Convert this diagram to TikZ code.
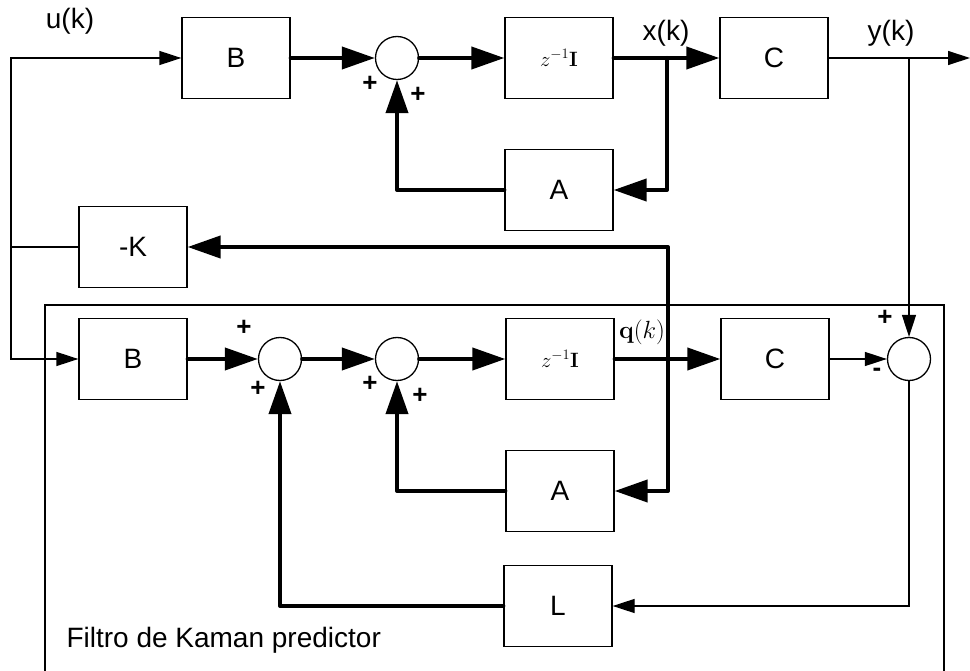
\documentclass[tikz,border=0pt]{standalone}
\usepackage[no-math]{fontspec}
\setmainfont{Liberation Sans}
\usetikzlibrary{arrows.meta}
\tikzset{
  block/.style={rectangle, draw, line width=1.3pt, minimum width=108pt, minimum height=81pt, inner sep=0pt},
  sumnode/.style={circle, draw, line width=1.3pt, minimum size=43pt, inner sep=0pt},
  arrow/.style={-{Triangle[length=33pt, width=22pt]}, line width=4pt, line join=round, line cap=round},
  tarrow/.style={-{Triangle[length=22pt, width=14pt]}, line width=1.3pt},
  thinline/.style={line width=1.3pt},
  sign/.style={font=\fontsize{26}{30}\selectfont\bfseries, inner sep=0pt},
  delay/.style={font=\fontsize{20}{24}\selectfont},
}

\begin{document}
\begin{tikzpicture}[x=1pt, y=-1pt, font=\fontsize{28}{34}\selectfont]
  \useasboundingbox (0,0) rectangle (970,671);
  % plant
  \node[block] (b1) at (236,58) {B};
  \node[sumnode] (sum1) at (397,58) {};
  \node[block, delay] (z1) at (559,58) {$z^{-1}\mathbf{I}$};
  \node[block] (c1) at (774,58) {C};
  \node[block] (a1) at (559,190) {A};
  \node[block] (k) at (133,247) {-K};
  % observer
  \draw[thinline] (45,680) -- (45,305) -- (944,305) -- (944,680);
  \node[block] (b2) at (133,359) {B};
  \node[sumnode] (sum2) at (280,359) {};
  \node[sumnode] (sum3) at (397,359) {};
  \node[block, delay] (z2) at (560,359) {$z^{-1}\mathbf{I}$};
  \node[block] (c2) at (775,359) {C};
  \node[sumnode] (sum4) at (909,359) {};
  \node[block] (a2) at (560,491) {A};
  \node[block] (l) at (558,606) {L};
  \node[anchor=base west] (title) at (63,647) {Filtro de Kaman predictor};
  % signals
  \node (ulab) at (70,21) {u(k)};
  \node (xlab) at (666,33) {x(k)};
  \node (ylab) at (891,33) {y(k)};
  \node[font=\fontsize{24}{28}\selectfont] (qlab) at (642,332) {$\mathbf{q}(k)$};
  \foreach \n/\x/\y/\s in {p1/370/84/+, p2/418/95/+, p3/244/328/+, p4/258/389/+,
                           p5/370/384/+, p6/420/396/+, p7/885/318/+, p8/877/372/-} {
    \node[sign] (\n) at (\x,\y) {\s};
  }
  \coordinate (uk) at (11,247);
  \coordinate (xk) at (667,58);
  \coordinate (yk) at (909,58);
  \coordinate (yout) at (970,58);
  \coordinate (qk) at (668,359);
  % connectors
  \draw[thinline] (k.west) -- (uk);
  \draw[tarrow] (uk) |- (b1.west);
  \draw[tarrow] (uk) |- (b2.west);
  \draw[arrow] (b1.east) -- (sum1.west);
  \draw[arrow] (sum1.east) -- (z1.west);
  \draw[arrow] (z1.east) -- (c1.west);
  \draw[arrow] (xk) |- (a1.east);
  \draw[arrow] (a1.west) -| (sum1.south);
  \draw[tarrow] (c1.east) -- (yout);
  \draw[tarrow] (yk) -- (sum4.north);
  \draw[arrow] (b2.east) -- (sum2.west);
  \draw[arrow] (sum2.east) -- (sum3.west);
  \draw[arrow] (sum3.east) -- (z2.west);
  \draw[arrow] (z2.east) -- (c2.west);
  \draw[tarrow] (c2.east) -- (sum4.west);
  \draw[arrow] (qk) |- (a2.east);
  \draw[arrow] (qk) |- (k.east);
  \draw[arrow] (a2.west) -| (sum3.south);
  \draw[tarrow] (sum4.south) |- (l.east);
  \draw[arrow] (l.west) -| (sum2.south);
\end{tikzpicture}
\end{document}
